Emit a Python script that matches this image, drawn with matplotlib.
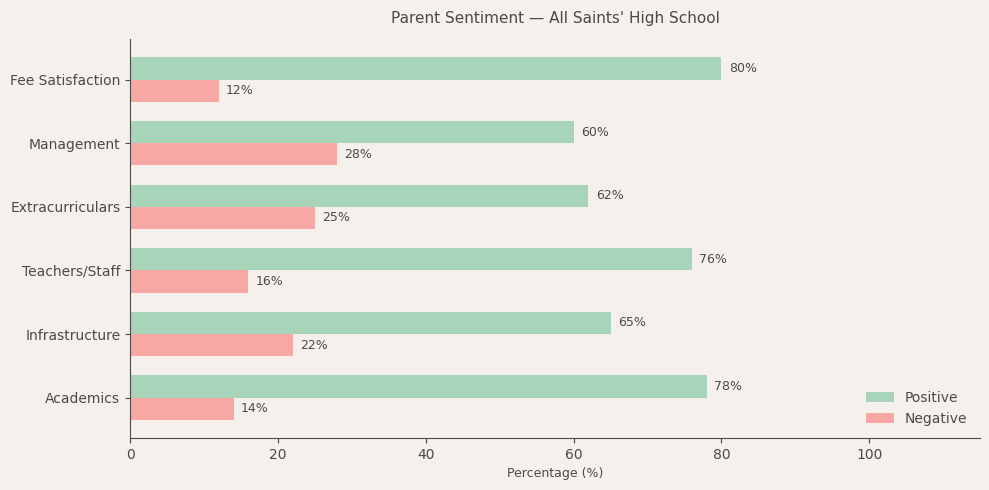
import matplotlib
matplotlib.use("Agg")
import matplotlib.pyplot as plt
import numpy as np

categories = ["Academics", "Infrastructure", "Teachers/Staff", "Extracurriculars", "Management", "Fee Satisfaction"]
positive = [78, 65, 76, 62, 60, 80]
negative = [14, 22, 16, 25, 28, 12]

BG = "#f5f0eb"
TXT = "#4a4a4a"
GREEN = "#a8d5ba"
RED = "#f7a8a4"

fig, ax = plt.subplots(figsize=(9.89, 4.9), dpi=100)
fig.patch.set_facecolor(BG)
ax.set_facecolor(BG)

y = np.arange(len(categories))
h = 0.35
b1 = ax.barh(y + h / 2, positive, height=h, color=GREEN, label="Positive")
b2 = ax.barh(y - h / 2, negative, height=h, color=RED, label="Negative")

for bars in (b1, b2):
    for bar in bars:
        w = bar.get_width()
        ax.text(w + 1, bar.get_y() + bar.get_height() / 2, f"{w:.0f}%",
                va="center", ha="left", fontsize=9, color=TXT)

ax.set_yticks(y)
ax.set_yticklabels(categories)
ax.set_xlim(0, 115)
ax.set_xlabel("Percentage (%)", fontsize=9, color=TXT)
ax.set_title("Parent Sentiment — All Saints' High School", fontsize=11, color=TXT, pad=12)

ax.spines["top"].set_visible(False)
ax.spines["right"].set_visible(False)
for s in ("left", "bottom"):
    ax.spines[s].set_color(TXT)
ax.tick_params(colors=TXT, labelsize=10)

leg = ax.legend(loc="lower right", frameon=False, fontsize=10)
for t in leg.get_texts():
    t.set_color(TXT)

plt.subplots_adjust(left=0.1315, right=0.991, top=0.92, bottom=0.106)
plt.savefig("out.png", dpi=100, facecolor=BG)
